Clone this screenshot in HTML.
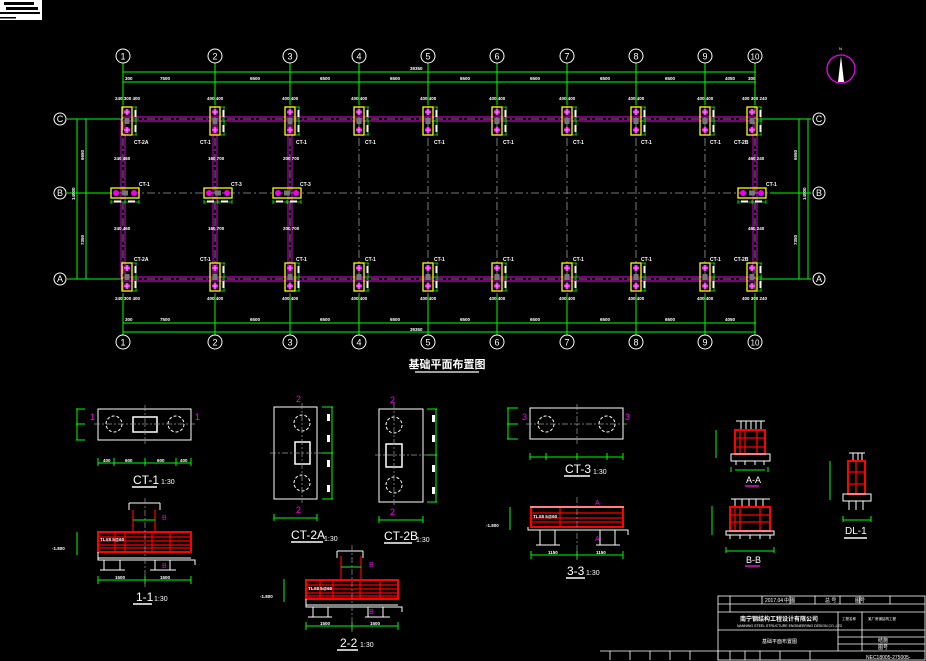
<!DOCTYPE html>
<html><head><meta charset="utf-8"><style>
html,body{margin:0;padding:0;background:#000;}
svg{display:block}
text{font-family:"Liberation Sans","Noto Sans CJK SC",sans-serif;}
</style></head><body>
<svg width="926" height="661" viewBox="0 0 926 661" xmlns="http://www.w3.org/2000/svg">
<defs>
<g id="fv"><rect x="-5" y="-14" width="10" height="28" fill="none" stroke="#ff0" stroke-width="1.3"/><rect x="-2.5" y="-3" width="5" height="6" fill="#777"/><circle cx="0" cy="-9" r="3" fill="#e0e" /><circle cx="0" cy="9" r="3" fill="#e0e"/><path d="M-3 -9h6M0 -12v6M-3 9h6M0 6v6" stroke="#fff" stroke-width=".6"/><path d="M6 -14h4M6 0h4M6 14h4M9 -14v28" stroke="#0f0" stroke-width=".8" fill="none"/><rect x="7.5" y="-11" width="2" height="7" fill="#fff"/><rect x="7.5" y="4" width="2" height="7" fill="#fff"/></g>
<g id="fh"><rect x="-14" y="-5" width="28" height="10" fill="none" stroke="#ff0" stroke-width="1.3"/><rect x="-3" y="-2.5" width="6" height="5" fill="#777"/><circle cx="-9" cy="0" r="3" fill="#e0e"/><circle cx="9" cy="0" r="3" fill="#e0e"/><path d="M-14 9h28M-14 7v4M0 7v4M14 7v4" stroke="#0f0" stroke-width=".8"/><rect x="-11" y="7.5" width="7" height="2" fill="#fff"/><rect x="3" y="7.5" width="7" height="2" fill="#fff"/></g>
</defs>
<rect x="0" y="0" width="42" height="20" fill="#fff"/>
<rect x="4" y="2" width="30" height="3" fill="#000"/><rect x="6" y="7" width="32" height="3" fill="#000"/><rect x="0" y="12" width="40" height="2" fill="#000"/><rect x="0" y="17" width="16" height="1.5" fill="#000"/>

<g stroke="#e0e" stroke-width=".9" fill="none">
<path d="M123 117H756M123 121H756M123 277H756M123 281H756"/>
<path d="M121 119V279M125 119V279M213 119V279M217 119V279M288 119V279M292 119V279M753 119V279M757 119V279"/>
</g>
<g stroke="#999" stroke-width=".8" stroke-dasharray="8 3 2 3">
<path d="M67 119H811M67 193H811M67 279H811"/>
<path d="M123 90V312M215 90V312M290 90V312M359 90V312M428 90V312M497 90V312M567 90V312M636 90V312M705 90V312M755 90V312"/>
</g>
<g stroke="#0f0" stroke-width="1" fill="none">
<path d="M123 72H756M123 82H756M123 323H756M123 332H756"/>
<path d="M123 63V105M215 63V105M290 63V105M359 63V105M428 63V105M497 63V105M567 63V105M636 63V105M705 63V105M755 63V105"/>
<path d="M123 295V335M215 295V335M290 295V335M359 295V335M428 295V335M497 295V335M567 295V335M636 295V335M705 295V335M755 295V335"/>
<path d="M67 119H120M67 193H110M67 279H120M760 119H811M770 193H811M760 279H811"/>
<path d="M77 119V279M86 119V279M799 119V279M808 119V279"/>
</g>
<g fill="#fff" font-size="4.5" font-weight="bold">
<text x="410" y="70">39350</text><text x="410" y="331">39350</text>
<text x="160" y="80">7500</text><text x="250" y="80">6500</text><text x="320" y="80">6500</text><text x="390" y="80">6500</text><text x="460" y="80">6500</text><text x="530" y="80">6500</text><text x="600" y="80">6500</text><text x="665" y="80">6500</text><text x="725" y="80">4050</text><text x="125" y="80">300</text><text x="748" y="80">300</text>
<text x="160" y="321">7500</text><text x="250" y="321">6500</text><text x="320" y="321">6500</text><text x="390" y="321">6500</text><text x="460" y="321">6500</text><text x="530" y="321">6500</text><text x="600" y="321">6500</text><text x="665" y="321">6500</text><text x="725" y="321">4050</text><text x="125" y="321">300</text>
<text transform="translate(84,160) rotate(-90)">6650</text><text transform="translate(84,245) rotate(-90)">7350</text><text transform="translate(75,200) rotate(-90)">14000</text>
<text transform="translate(797,160) rotate(-90)">6650</text><text transform="translate(797,245) rotate(-90)">7350</text><text transform="translate(806,200) rotate(-90)">14000</text>
</g>
<use href="#fv" x="127" y="121"/><use href="#fv" x="215" y="121"/><use href="#fv" x="290" y="121"/><use href="#fv" x="359" y="121"/><use href="#fv" x="428" y="121"/><use href="#fv" x="497" y="121"/><use href="#fv" x="567" y="121"/><use href="#fv" x="636" y="121"/><use href="#fv" x="705" y="121"/><use href="#fv" x="752" y="121"/>
<use href="#fv" x="127" y="277"/><use href="#fv" x="215" y="277"/><use href="#fv" x="290" y="277"/><use href="#fv" x="359" y="277"/><use href="#fv" x="428" y="277"/><use href="#fv" x="497" y="277"/><use href="#fv" x="567" y="277"/><use href="#fv" x="636" y="277"/><use href="#fv" x="705" y="277"/><use href="#fv" x="752" y="277"/>
<use href="#fh" x="125" y="193"/><use href="#fh" x="218" y="193"/><use href="#fh" x="287" y="193"/><use href="#fh" x="752" y="193"/>
<g fill="#fff" font-size="5" font-weight="bold">
<text x="134" y="144">CT-2A</text><text x="200" y="144">CT-1</text><text x="296" y="144">CT-1</text><text x="365" y="144">CT-1</text><text x="434" y="144">CT-1</text><text x="503" y="144">CT-1</text><text x="573" y="144">CT-1</text><text x="641" y="144">CT-1</text><text x="710" y="144">CT-1</text><text x="734" y="144">CT-2B</text>
<text x="134" y="261">CT-2A</text><text x="200" y="261">CT-1</text><text x="296" y="261">CT-1</text><text x="365" y="261">CT-1</text><text x="434" y="261">CT-1</text><text x="503" y="261">CT-1</text><text x="573" y="261">CT-1</text><text x="641" y="261">CT-1</text><text x="710" y="261">CT-1</text><text x="734" y="261">CT-2B</text>
<text x="139" y="186">CT-1</text><text x="231" y="186">CT-3</text><text x="300" y="186">CT-3</text><text x="766" y="186">CT-1</text>
</g>
<g fill="#fff" font-size="4.5" font-weight="bold">
<text x="115" y="100">240 300 400</text><text x="207" y="100">400 400</text><text x="282" y="100">400 400</text><text x="351" y="100">400 400</text><text x="420" y="100">400 400</text><text x="489" y="100">400 400</text><text x="559" y="100">400 400</text><text x="628" y="100">400 400</text><text x="697" y="100">400 400</text><text x="742" y="100">400 300 240</text>
<text x="115" y="300">240 300 400</text><text x="207" y="300">400 400</text><text x="282" y="300">400 400</text><text x="351" y="300">400 400</text><text x="420" y="300">400 400</text><text x="489" y="300">400 400</text><text x="559" y="300">400 400</text><text x="628" y="300">400 400</text><text x="697" y="300">400 400</text><text x="742" y="300">400 300 240</text>
<text x="114" y="160">240 460</text><text x="208" y="160">160 700</text><text x="283" y="160">200 700</text><text x="748" y="160">460 240</text>
<text x="114" y="230">240 460</text><text x="208" y="230">160 700</text><text x="283" y="230">200 700</text><text x="748" y="230">460 240</text>
</g>
<g fill="none" stroke="#fff" stroke-width="1">
<circle cx="123" cy="56" r="7"/><circle cx="215" cy="56" r="7"/><circle cx="290" cy="56" r="7"/><circle cx="359" cy="56" r="7"/><circle cx="428" cy="56" r="7"/><circle cx="497" cy="56" r="7"/><circle cx="567" cy="56" r="7"/><circle cx="636" cy="56" r="7"/><circle cx="705" cy="56" r="7"/><circle cx="755" cy="56" r="7"/>
<circle cx="123" cy="342" r="7"/><circle cx="215" cy="342" r="7"/><circle cx="290" cy="342" r="7"/><circle cx="359" cy="342" r="7"/><circle cx="428" cy="342" r="7"/><circle cx="497" cy="342" r="7"/><circle cx="567" cy="342" r="7"/><circle cx="636" cy="342" r="7"/><circle cx="705" cy="342" r="7"/><circle cx="755" cy="342" r="7"/>
<circle cx="60" cy="119" r="6"/><circle cx="60" cy="193" r="6"/><circle cx="60" cy="279" r="6"/><circle cx="819" cy="119" r="6"/><circle cx="819" cy="193" r="6"/><circle cx="819" cy="279" r="6"/>
</g>
<g fill="#fff" font-size="9" text-anchor="middle" font-family="Liberation Serif,serif">
<text x="123" y="59.5">1</text><text x="215" y="59.5">2</text><text x="290" y="59.5">3</text><text x="359" y="59.5">4</text><text x="428" y="59.5">5</text><text x="497" y="59.5">6</text><text x="567" y="59.5">7</text><text x="636" y="59.5">8</text><text x="705" y="59.5">9</text><text x="755" y="59.5" font-size="8">10</text>
<text x="123" y="345.5">1</text><text x="215" y="345.5">2</text><text x="290" y="345.5">3</text><text x="359" y="345.5">4</text><text x="428" y="345.5">5</text><text x="497" y="345.5">6</text><text x="567" y="345.5">7</text><text x="636" y="345.5">8</text><text x="705" y="345.5">9</text><text x="755" y="345.5" font-size="8">10</text>
<text x="60" y="122">C</text><text x="60" y="196">B</text><text x="60" y="282">A</text><text x="819" y="122">C</text><text x="819" y="196">B</text><text x="819" y="282">A</text>
</g>
<circle cx="841" cy="69" r="14" fill="none" stroke="#e0e" stroke-width="1.3"/>
<path d="M841 56L844 82H838Z" fill="#fff"/><text x="839" y="50" fill="#fff" font-size="4">N</text>
<text x="447" y="368" fill="#fff" font-size="11" font-weight="bold" text-anchor="middle">基础平面布置图</text>
<path d="M415 372H479" stroke="#fff" stroke-width="1.2"/>

<g stroke="#fff" fill="none" stroke-width="1">
<rect x="98" y="409" width="93" height="31"/><rect x="133" y="417" width="24" height="15" stroke-width="1.5"/>
<circle cx="114" cy="424" r="8" stroke-dasharray="3 2"/><circle cx="176" cy="424" r="8" stroke-dasharray="3 2"/>
</g>
<path d="M94 424H195M145 405V444" stroke="#999" stroke-width=".7" stroke-dasharray="6 2 2 2"/>
<path d="M76 409H85M76 424H85M76 440H85M77 409V440M98 463H191M98 458V466M114 458V466M145 458V466M176 458V466M191 458V466" stroke="#0f0" stroke-width="1"/>
<g fill="#e0e" font-size="9"><text x="90" y="420">1</text><text x="195" y="420">1</text></g>
<text x="133" y="484" fill="#fff" font-size="12">CT-1</text><text x="161" y="484" fill="#fff" font-size="7">1:30</text><path d="M132 487H157" stroke="#fff" stroke-width="1.5"/>
<g fill="#fff" font-size="4.5" font-weight="bold"><text x="103" y="462">400</text><text x="125" y="462">600</text><text x="157" y="462">600</text><text x="180" y="462">400</text></g>

<g fill="none">
<path d="M129 503V510M160 503V510M129 503H160" stroke="#fff"/>
<rect x="98" y="532" width="93" height="20" stroke="#f00" stroke-width="2"/>
<path d="M133 532V510M155 532V510M98 537H191M98 541H191M98 545H191M98 548H191M125 532V552M152 532V552M115 532V552M170 532V552" stroke="#f00" stroke-width="1.2"/>
<path d="M98 552V560H195V565M98 558H191M104 560V570M120 560V570M155 560V570M170 560V570M100 570H125M150 570H176" stroke="#fff"/>
<path d="M98 580H191M98 576V584M145 576V584M191 576V584M77 532V555M133 520H155" stroke="#0f0"/>
<path d="M145 498V587" stroke="#999" stroke-width=".7" stroke-dasharray="6 2 2 2"/>
</g>
<text x="136" y="601" fill="#fff" font-size="12">1-1</text><text x="154" y="601" fill="#fff" font-size="7">1:30</text><path d="M133 604H152" stroke="#fff" stroke-width="1.5"/>
<g fill="#fff" font-size="4.5" font-weight="bold"><text x="115" y="579">1500</text><text x="160" y="579">1500</text><text x="52" y="550">-1.800</text><text x="100" y="541">TLX8 5@60</text></g>
<g fill="#e0e" font-size="7"><text x="162" y="520">B</text><text x="162" y="568">B</text></g>

<g stroke="#fff" fill="none">
<rect x="274" y="407" width="43" height="92"/><rect x="295" y="442" width="15" height="22" stroke-width="1.5"/>
<circle cx="302" cy="423" r="8" stroke-dasharray="3 2"/><circle cx="302" cy="483" r="8" stroke-dasharray="3 2"/>
</g>
<path d="M270 453H324M302 403V503" stroke="#999" stroke-width=".7" stroke-dasharray="6 2 2 2"/>
<path d="M322 407H333M322 453H333M322 499H333M332 407V499M274 518H317M274 514V521M317 514V521" stroke="#0f0"/>
<g fill="#fff"><rect x="327" y="414" width="3" height="7"/><rect x="327" y="435" width="3" height="7"/><rect x="327" y="460" width="3" height="7"/><rect x="327" y="485" width="3" height="7"/></g>
<g fill="#e0e" font-size="9"><text x="296" y="402">2</text><text x="296" y="513">2</text></g>
<text x="291" y="539" fill="#fff" font-size="12">CT-2A</text><text x="324" y="541" fill="#fff" font-size="7">1:30</text><path d="M291 542H323" stroke="#fff" stroke-width="1.5"/>
<g stroke="#fff" fill="none">
<rect x="379" y="409" width="44" height="93"/><rect x="386" y="444" width="16" height="23" stroke-width="1.5"/>
<circle cx="394" cy="425" r="8" stroke-dasharray="3 2"/><circle cx="394" cy="485" r="8" stroke-dasharray="3 2"/>
</g>
<path d="M375 455H428M394 403V506" stroke="#999" stroke-width=".7" stroke-dasharray="6 2 2 2"/>
<path d="M427 409H437M427 455H437M427 502H437M436 409V502M379 520H423M379 516V523M423 516V523" stroke="#0f0"/>
<g fill="#fff"><rect x="432" y="415" width="3" height="7"/><rect x="432" y="435" width="3" height="7"/><rect x="432" y="465" width="3" height="7"/><rect x="432" y="487" width="3" height="7"/></g>
<g fill="#e0e" font-size="9"><text x="390" y="403">2</text><text x="390" y="515">2</text></g>
<text x="384" y="540" fill="#fff" font-size="12">CT-2B</text><text x="416" y="542" fill="#fff" font-size="7">1:30</text><path d="M384 543H412" stroke="#fff" stroke-width="1.5"/>

<g fill="none">
<path d="M337 551V558M363 551V558M337 551H363" stroke="#fff"/>
<rect x="306" y="580" width="92" height="19" stroke="#f00" stroke-width="2"/>
<path d="M341 580V556M361 580V556M306 585H398M306 589H398M306 593H398M306 596H398M333 580V599M360 580V599M320 580V599M380 580V599" stroke="#f00" stroke-width="1.2"/>
<path d="M306 599V607H402V612M306 605H398M313 607V617M328 607V617M368 607V617M383 607V617M308 617H332M365 617H390" stroke="#fff"/>
<path d="M306 626H398M306 622V630M352 622V630M398 622V630M284 579V602M341 567H361" stroke="#0f0"/>
<path d="M352 545V632" stroke="#999" stroke-width=".7" stroke-dasharray="6 2 2 2"/>
</g>
<text x="340" y="647" fill="#fff" font-size="12">2-2</text><text x="360" y="647" fill="#fff" font-size="7">1:30</text><path d="M337 650H358" stroke="#fff" stroke-width="1.5"/>
<g fill="#fff" font-size="4.5" font-weight="bold"><text x="320" y="625">1500</text><text x="370" y="625">1500</text><text x="260" y="598">-1.800</text><text x="308" y="590">TLX8 5@60</text></g>
<g fill="#e0e" font-size="7"><text x="369" y="567">B</text><text x="369" y="614">B</text></g>

<g stroke="#fff" fill="none"><rect x="530" y="408" width="93" height="31"/>
<circle cx="546" cy="424" r="8" stroke-dasharray="3 2"/><circle cx="607" cy="424" r="8" stroke-dasharray="3 2"/></g>
<path d="M526 424H627M577 404V444" stroke="#999" stroke-width=".7" stroke-dasharray="6 2 2 2"/>
<path d="M507 408H518M507 424H518M507 439H518M508 408V439M530 457H623M530 453V460M546 453V460M577 453V460M607 453V460M623 453V460" stroke="#0f0"/>
<g fill="#e0e" font-size="9"><text x="522" y="420">3</text><text x="625" y="420">3</text></g>
<text x="565" y="473" fill="#fff" font-size="12">CT-3</text><text x="593" y="474" fill="#fff" font-size="7">1:30</text><path d="M564 476H590" stroke="#fff" stroke-width="1.5"/>
<g fill="none">
<rect x="531" y="507" width="92" height="20" stroke="#f00" stroke-width="2"/>
<path d="M531 513H623M531 518H623M531 522H623M560 507V527" stroke="#f00" stroke-width="1.2"/>
<path d="M530 507H624M528 527V530H628V535M540 530V545M555 530V545M600 530V545M615 530V545M536 545H560M596 545H620" stroke="#fff"/>
<path d="M531 555H623M531 551V559M577 551V559M623 551V559M510 507V530" stroke="#0f0"/>
<path d="M577 497V560" stroke="#999" stroke-width=".7" stroke-dasharray="6 2 2 2"/>
</g>
<text x="567" y="575" fill="#fff" font-size="12">3-3</text><text x="586" y="575" fill="#fff" font-size="7">1:30</text><path d="M566 578H585" stroke="#fff" stroke-width="1.5"/>
<g fill="#fff" font-size="4.5" font-weight="bold"><text x="548" y="554">1150</text><text x="596" y="554">1150</text><text x="486" y="527">-1.800</text><text x="533" y="518">TLX8 5@60</text></g>
<g fill="#e0e" font-size="7"><text x="595" y="505">A</text><text x="595" y="541">A</text></g>

<g fill="none">
<path d="M736 421H765M741 421V430M746 421V430M751 421V430M756 421V430M761 421V430" stroke="#fff"/>
<rect x="735" y="430" width="30" height="24" stroke="#f00" stroke-width="2"/>
<path d="M740 430V454M745 430V454M757 430V454M735 438H765M735 447H765" stroke="#f00" stroke-width="1.3"/>
<path d="M731 454H770V461H731ZM736 461V465M745 461V465M755 461V465M764 461V465" stroke="#fff"/>
<path d="M716 430V458M735 470H765M731 467V472M768 467V472" stroke="#0f0"/>
</g>
<text x="746" y="483" fill="#fff" font-size="9">A-A</text><path d="M745 486H759" stroke="#e0e" stroke-width="1.5"/>
<g fill="none">
<path d="M731 499H770M735 499V507M742 499V507M749 499V507M756 499V507M763 499V507" stroke="#fff"/>
<rect x="730" y="507" width="40" height="24" stroke="#f00" stroke-width="2"/>
<path d="M735 507V531M740 507V531M760 507V531M730 515H770M730 522H770" stroke="#f00" stroke-width="1.3"/>
<path d="M726 531H774V535H726ZM730 535V539M740 535V539M750 535V539M760 535V539M770 535V539" stroke="#fff"/>
<path d="M712 506V535M726 551H774M726 547V553M774 547V553" stroke="#0f0"/>
</g>
<text x="746" y="563" fill="#fff" font-size="9">B-B</text><path d="M745 566H760" stroke="#e0e" stroke-width="1.5"/>
<g fill="none">
<path d="M849 453H865M853 453V461M858 453V461M862 453V461" stroke="#fff"/>
<rect x="848" y="461" width="17" height="33" stroke="#f00" stroke-width="2"/>
<path d="M848 472H865M848 484H865M856 461V494" stroke="#f00" stroke-width="1.3"/>
<path d="M843 494H871V501H843ZM849 501V510M856 501V510M863 501V510" stroke="#fff"/>
<path d="M830 461V500M843 520H871M843 516V522M871 516V522" stroke="#0f0"/>
</g>
<text x="845" y="534" fill="#fff" font-size="10">DL-1</text><path d="M844 538H867" stroke="#fff" stroke-width="1.5"/>

<g stroke="#fff" fill="none" stroke-width=".8">
<rect x="718" y="596" width="207" height="64"/>
<path d="M718 604H925M718 612H925M718 630H925M718 651H925M838 612V651M862 612V651M838 637H925M838 644H925"/>
<path d="M730 596V612M762 596V604M790 596V604M815 596V604M840 596V604M860 596V604M890 596V604"/>
<path d="M600 651H718V660M610 651V660M630 651V660M650 651V660M670 651V660M690 651V660M730 651V660M745 651V660M760 651V660M780 651V660M810 651V660"/>
</g>
<g fill="#fff" font-size="5">
<text x="765" y="602">2017.04</text><text x="784" y="602">中 图</text><text x="825" y="602">总 号</text><text x="855" y="602">图号</text>
<text x="740" y="621" font-size="6" font-weight="bold">南宁钢结构工程设计有限公司</text>
<text x="737" y="627" font-size="3.5">NANNING STEEL STRUCTURE ENGINEERING DESIGN CO.,LTD</text>
<text x="762" y="643" font-size="5">基础平面布置图</text>
<text x="842" y="620" font-size="3.5">工程名称</text><text x="868" y="620" font-size="3.5">某厂房钢结构工程</text>
<text x="878" y="642">结施</text><text x="878" y="649">图号</text>
<text x="866" y="659">NEC18005-275005-</text>
</g>
</svg>
</body></html>
